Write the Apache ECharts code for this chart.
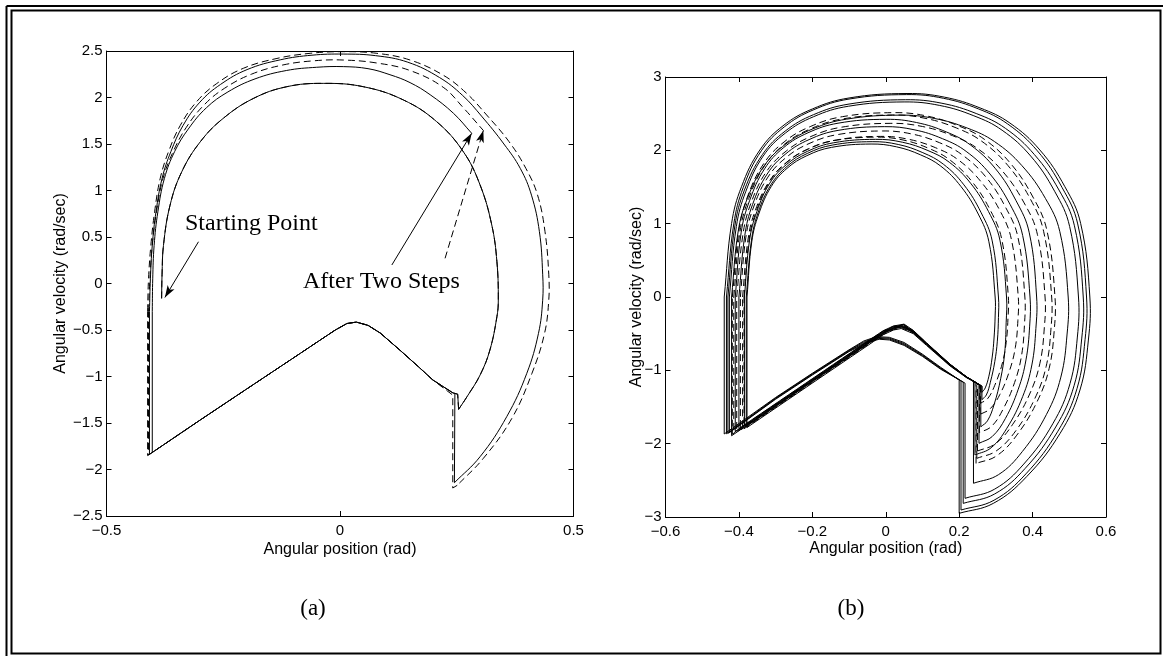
<!DOCTYPE html>
<html>
<head>
<meta charset="utf-8">
<script src="https://cdn.jsdelivr.net/npm/echarts@6/dist/echarts.min.js"></script>
<style>
  html, body { margin: 0; padding: 0; background: #ffffff; }
  #chart { width: 1163px; height: 656px; }
</style>
</head>
<body>
<div id="chart"></div>
<script>
// ---------- Panel (a): two simulated runs, solid and dashed ----------
// first swing, shared by both runs (starts at the marked starting point)
const aSwing1 = [[-0.382,-0.16],[-0.381,0.1],[-0.378,0.41],[-0.364,0.84],[-0.339,1.2],[-0.299,1.525],[-0.25,1.776],[-0.185,1.991],[-0.114,2.116],[-0.036,2.152],[0.05,2.116],[0.136,1.973],[0.207,1.74],[0.264,1.418],[0.3,1.059],[0.325,0.629],[0.336,0.235],[0.339,-0.177],[0.336,-0.357],[0.321,-0.715],[0.3,-0.984],[0.272,-1.217],[0.254,-1.353]];
// impact + stance phase after the first swing
const aStanceSolid1 = [[0.254,-1.353],[0.252,-1.19],[0.242,-1.177],[0.199,-1.038],[0.171,-0.909],[0.128,-0.715],[0.086,-0.532],[0.06,-0.45],[0.035,-0.415],[0.015,-0.43],[-0.01,-0.5],[-0.04,-0.6],[-0.085,-0.751],[-0.2,-1.135],[-0.3,-1.47],[-0.408,-1.837],[-0.408,-0.3]];
const aStanceDashed1 = [[0.254,-1.353],[0.252,-1.19],[0.242,-1.177],[0.199,-1.038],[0.171,-0.909],[0.128,-0.715],[0.086,-0.532],[0.06,-0.45],[0.035,-0.415],[0.015,-0.43],[-0.01,-0.5],[-0.04,-0.6],[-0.085,-0.751],[-0.2,-1.135],[-0.3,-1.47],[-0.412,-1.85],[-0.412,-0.3]];
// second swing
const aSwing2Solid = [[-0.408,-0.3],[-0.406,0.05],[-0.402,0.41],[-0.394,0.77],[-0.381,1.13],[-0.362,1.42],[-0.336,1.7],[-0.3,1.95],[-0.256,2.14],[-0.199,2.3],[-0.128,2.405],[-0.06,2.455],[0.007,2.467],[0.076,2.45],[0.145,2.38],[0.213,2.215],[0.262,2.025],[0.303,1.8],[0.351,1.5],[0.386,1.238],[0.41,0.95],[0.427,0.557],[0.434,0.1],[0.434,-0.18],[0.425,-0.536],[0.4,-0.966],[0.357,-1.432],[0.3,-1.862],[0.245,-2.142]];
const aSwing2Dashed = [[-0.412,-0.3],[-0.41,0.05],[-0.405,0.41],[-0.397,0.77],[-0.385,1.13],[-0.367,1.42],[-0.342,1.7],[-0.307,1.955],[-0.264,2.15],[-0.207,2.314],[-0.135,2.42],[-0.064,2.475],[0.007,2.493],[0.079,2.475],[0.15,2.403],[0.221,2.24],[0.27,2.05],[0.314,1.812],[0.362,1.525],[0.398,1.238],[0.423,0.952],[0.439,0.557],[0.447,0.1],[0.447,-0.18],[0.438,-0.536],[0.411,-0.966],[0.368,-1.45],[0.307,-1.88],[0.251,-2.17]];
// impact + stance phase after the second swing
const aStanceSolid2 = [[0.245,-2.142],[0.246,-1.18],[0.242,-1.177],[0.199,-1.038],[0.171,-0.909],[0.128,-0.715],[0.086,-0.532],[0.06,-0.45],[0.035,-0.415],[0.015,-0.43],[-0.01,-0.5],[-0.04,-0.6],[-0.085,-0.751],[-0.2,-1.135],[-0.3,-1.47],[-0.402,-1.817],[-0.402,-0.3]];
const aStanceDashed2 = [[0.251,-2.17],[0.2415,-2.199],[0.2415,-1.2],[0.199,-1.038],[0.171,-0.909],[0.128,-0.715],[0.086,-0.532],[0.06,-0.45],[0.035,-0.415],[0.015,-0.43],[-0.01,-0.5],[-0.04,-0.6],[-0.085,-0.751],[-0.2,-1.135],[-0.3,-1.47],[-0.41,-1.844],[-0.41,-0.3]];
// third swing, stopped after two steps
const aSwing3Solid = [[-0.402,-0.3],[-0.401,0.05],[-0.398,0.41],[-0.39,0.77],[-0.376,1.13],[-0.354,1.42],[-0.325,1.66],[-0.286,1.89],[-0.24,2.06],[-0.182,2.2],[-0.115,2.29],[-0.05,2.325],[0.007,2.332],[0.06,2.31],[0.107,2.245],[0.15,2.16],[0.193,2.03],[0.243,1.83],[0.282,1.615]];
const aSwing3Dashed = [[-0.41,-0.3],[-0.407,0.05],[-0.402,0.41],[-0.393,0.77],[-0.379,1.13],[-0.357,1.42],[-0.329,1.68],[-0.291,1.92],[-0.247,2.1],[-0.19,2.25],[-0.122,2.35],[-0.055,2.395],[0.007,2.403],[0.08,2.37],[0.15,2.29],[0.221,2.11],[0.264,1.89],[0.307,1.645]];
// annotation arrows [from, to]
const aArrowStart = [[-0.303,0.449],[-0.375,-0.15]];
const aArrowSolid = [[0.111,0.199],[0.282,1.615]];
const aArrowDashed = [[0.225,0.271],[0.307,1.645]];

// ---------- Panel (b): many steps, solid and dashed families ----------
const bSwingS1 = [[-0.44,0],[-0.42,1.002],[-0.393,1.504],[-0.343,2.004],[-0.28,2.334],[-0.2,2.564],[-0.1,2.714],[0.058,2.775],[0.16,2.725],[0.257,2.578],[0.338,2.373],[0.42,2.004],[0.488,1.504],[0.531,1.002],[0.556,0],[0.552,-0.587],[0.529,-1.269],[0.475,-1.859],[0.384,-2.449],[0.293,-2.814],[0.2,-2.95]];
const bSwingS2 = [[-0.434,0],[-0.414,0.996],[-0.388,1.496],[-0.339,1.993],[-0.276,2.321],[-0.198,2.55],[-0.1,2.699],[0.057,2.76],[0.157,2.71],[0.253,2.564],[0.332,2.36],[0.413,1.993],[0.48,1.496],[0.523,0.996],[0.547,0],[0.543,-0.578],[0.521,-1.249],[0.469,-1.83],[0.382,-2.411],[0.295,-2.771],[0.205,-2.905]];
const bSwingS3 = [[-0.43,0],[-0.411,0.971],[-0.385,1.458],[-0.336,1.942],[-0.274,2.262],[-0.197,2.486],[-0.1,2.631],[0.054,2.69],[0.153,2.642],[0.248,2.499],[0.326,2.3],[0.405,1.942],[0.472,1.458],[0.514,0.971],[0.538,0],[0.534,-0.56],[0.513,-1.21],[0.463,-1.773],[0.38,-2.336],[0.297,-2.685],[0.211,-2.814]];
const bSwingS4 = [[-0.426,0],[-0.407,0.96],[-0.381,1.442],[-0.334,1.921],[-0.273,2.237],[-0.197,2.458],[-0.102,2.601],[0.05,2.66],[0.147,2.612],[0.24,2.471],[0.317,2.274],[0.395,1.921],[0.46,1.442],[0.501,0.96],[0.525,0],[0.522,-0.546],[0.502,-1.18],[0.455,-1.729],[0.376,-2.278],[0.297,-2.619],[0.216,-2.745]];
const bSwingS5 = [[-0.42,0],[-0.402,0.895],[-0.377,1.344],[-0.331,1.791],[-0.272,2.086],[-0.199,2.292],[-0.107,2.425],[0.039,2.48],[0.132,2.435],[0.222,2.304],[0.296,2.12],[0.371,1.791],[0.435,1.344],[0.474,0.895],[0.497,0],[0.494,-0.505],[0.477,-1.092],[0.438,-1.6],[0.372,-2.108],[0.307,-2.423],[0.239,-2.54]];
const bSwingS6 = [[-0.41,0],[-0.394,0.875],[-0.371,1.313],[-0.33,1.749],[-0.278,2.038],[-0.212,2.239],[-0.13,2.37],[0.001,2.423],[0.084,2.379],[0.165,2.251],[0.231,2.072],[0.299,1.749],[0.355,1.313],[0.391,0.875],[0.411,0],[0.409,-0.429],[0.398,-0.927],[0.373,-1.358],[0.33,-1.789],[0.287,-2.056],[0.243,-2.155]];
const bSwingS7 = [[-0.4,0],[-0.384,0.839],[-0.363,1.259],[-0.323,1.677],[-0.272,1.954],[-0.209,2.146],[-0.13,2.272],[-0.004,2.323],[0.077,2.281],[0.155,2.158],[0.219,1.986],[0.284,1.677],[0.339,1.259],[0.373,0.839],[0.393,0],[0.392,-0.397],[0.382,-0.858],[0.361,-1.257],[0.326,-1.656],[0.29,-1.903],[0.254,-1.995]];
const bSwingS8 = [[-0.385,0],[-0.371,0.776],[-0.351,1.165],[-0.316,1.552],[-0.27,1.808],[-0.213,1.987],[-0.142,2.103],[-0.028,2.15],[0.045,2.111],[0.115,1.997],[0.173,1.838],[0.231,1.552],[0.28,1.165],[0.311,0.776],[0.329,0],[0.328,-0.352],[0.324,-0.761],[0.313,-1.115],[0.295,-1.469],[0.277,-1.689],[0.259,-1.77]];
const bSwingS9 = [[-0.38,0],[-0.366,0.765],[-0.348,1.148],[-0.313,1.529],[-0.269,1.781],[-0.214,1.957],[-0.146,2.071],[-0.037,2.118],[0.034,2.08],[0.101,1.968],[0.157,1.811],[0.213,1.529],[0.26,1.148],[0.29,0.765],[0.307,0],[0.307,-0.279],[0.304,-0.602],[0.297,-0.882],[0.285,-1.162],[0.274,-1.336],[0.262,-1.4]];
const bSwingS10 = [[-0.378,0],[-0.365,0.753],[-0.346,1.131],[-0.312,1.506],[-0.269,1.754],[-0.215,1.927],[-0.148,2.04],[-0.04,2.086],[0.029,2.048],[0.095,1.938],[0.15,1.784],[0.205,1.506],[0.252,1.131],[0.281,0.753],[0.298,0],[0.298,-0.259],[0.295,-0.559],[0.29,-0.819],[0.281,-1.079],[0.271,-1.24],[0.262,-1.3]];
const bSwingD1 = [[-0.418,0],[-0.4,0.908],[-0.377,1.363],[-0.333,1.815],[-0.277,2.114],[-0.206,2.323],[-0.118,2.459],[0.022,2.514],[0.111,2.469],[0.197,2.336],[0.269,2.149],[0.341,1.815],[0.401,1.363],[0.439,0.908],[0.461,0],[0.459,-0.452],[0.445,-0.976],[0.412,-1.43],[0.357,-1.884],[0.302,-2.166],[0.246,-2.27]];
const bSwingD2 = [[-0.414,0],[-0.397,0.896],[-0.373,1.345],[-0.33,1.792],[-0.275,2.087],[-0.205,2.293],[-0.119,2.427],[0.019,2.482],[0.107,2.437],[0.192,2.306],[0.262,2.122],[0.333,1.792],[0.393,1.345],[0.43,0.896],[0.452,0],[0.45,-0.438],[0.437,-0.946],[0.406,-1.386],[0.354,-1.826],[0.301,-2.099],[0.248,-2.2]];
const bSwingD3 = [[-0.406,0],[-0.389,0.855],[-0.367,1.283],[-0.325,1.71],[-0.271,1.991],[-0.204,2.188],[-0.12,2.316],[0.014,2.368],[0.1,2.325],[0.182,2.2],[0.25,2.025],[0.319,1.71],[0.377,1.283],[0.413,0.855],[0.434,0],[0.432,-0.418],[0.42,-0.903],[0.392,-1.323],[0.345,-1.743],[0.298,-2.003],[0.25,-2.1]];
const bSwingD4 = [[-0.396,0],[-0.381,0.817],[-0.36,1.227],[-0.321,1.635],[-0.271,1.904],[-0.209,2.092],[-0.132,2.214],[-0.009,2.264],[0.071,2.223],[0.147,2.103],[0.209,1.936],[0.273,1.635],[0.326,1.227],[0.36,0.817],[0.379,0],[0.378,-0.368],[0.37,-0.796],[0.351,-1.166],[0.319,-1.536],[0.288,-1.765],[0.255,-1.85]];
const bSwingD5 = [[-0.39,0],[-0.375,0.791],[-0.355,1.187],[-0.317,1.581],[-0.269,1.842],[-0.209,2.024],[-0.134,2.142],[-0.015,2.19],[0.062,2.151],[0.136,2.035],[0.197,1.872],[0.258,1.581],[0.31,1.187],[0.342,0.791],[0.361,0],[0.36,-0.318],[0.353,-0.688],[0.337,-1.008],[0.311,-1.328],[0.284,-1.526],[0.257,-1.6]];
const bSwingD6 = [[-0.386,0],[-0.372,0.787],[-0.352,1.182],[-0.316,1.574],[-0.27,1.833],[-0.213,2.014],[-0.141,2.132],[-0.026,2.18],[0.047,2.141],[0.118,2.025],[0.176,1.864],[0.235,1.574],[0.285,1.182],[0.316,0.787],[0.334,0],[0.333,-0.289],[0.328,-0.624],[0.317,-0.914],[0.297,-1.204],[0.278,-1.383],[0.258,-1.45]];

// impact jumps + stance phases (right vertical, roof, left vertical)
const bStanceS1 = [[0.2,-2.95],[0.2,-1.13],[0.15,-0.96],[0.1,-0.78],[0.05,-0.62],[0.01,-0.55],[-0.025,-0.54],[-0.06,-0.6],[-0.1,-0.72],[-0.2,-1.04],[-0.3,-1.37],[-0.44,-1.868],[-0.44,0]];
const bStanceS2 = [[0.205,-2.905],[0.205,-1.145],[0.15,-0.97],[0.1,-0.79],[0.05,-0.635],[0.01,-0.562],[-0.022,-0.552],[-0.058,-0.608],[-0.1,-0.728],[-0.2,-1.048],[-0.3,-1.378],[-0.434,-1.865],[-0.434,0]];
const bStanceS3 = [[0.211,-2.814],[0.211,-1.16],[0.15,-0.978],[0.1,-0.8],[0.05,-0.648],[0.01,-0.574],[-0.02,-0.564],[-0.055,-0.616],[-0.1,-0.736],[-0.2,-1.056],[-0.3,-1.386],[-0.43,-1.86],[-0.43,0]];
const bStanceS4 = [[0.216,-2.745],[0.216,-1.175],[0.15,-0.986],[0.1,-0.81],[0.05,-0.66],[0.01,-0.586],[-0.018,-0.576],[-0.052,-0.624],[-0.1,-0.744],[-0.2,-1.064],[-0.3,-1.394],[-0.426,-1.85],[-0.426,0]];
const bStanceS5 = [[0.239,-2.54],[0.239,-1.146],[0.22,-1.09],[0.175,-0.92],[0.111,-0.64],[0.075,-0.48],[0.045,-0.4],[0.021,-0.425],[-0.007,-0.49],[-0.034,-0.58],[-0.2,-1.144],[-0.42,-1.892],[-0.42,0]];
const bStanceS6 = [[0.243,-2.155],[0.243,-1.158],[0.22,-1.09],[0.175,-0.92],[0.111,-0.63],[0.075,-0.465],[0.048,-0.38],[0.021,-0.405],[-0.007,-0.47],[-0.034,-0.56],[-0.2,-1.124],[-0.41,-1.838],[-0.41,0]];
const bStanceS7 = [[0.254,-1.995],[0.254,-1.191],[0.22,-1.088],[0.175,-0.915],[0.111,-0.625],[0.075,-0.455],[0.05,-0.37],[0.021,-0.395],[-0.007,-0.46],[-0.034,-0.55],[-0.2,-1.114],[-0.4,-1.794],[-0.4,0]];
const bStanceS8 = [[0.259,-1.77],[0.259,-1.206],[0.22,-1.092],[0.175,-0.925],[0.111,-0.635],[0.075,-0.47],[0.046,-0.39],[0.021,-0.415],[-0.007,-0.48],[-0.034,-0.57],[-0.2,-1.134],[-0.385,-1.763],[-0.385,0]];
const bStanceS9 = [[0.262,-1.4],[0.262,-1.215],[0.22,-1.095],[0.175,-0.93],[0.111,-0.645],[0.075,-0.485],[0.044,-0.41],[0.021,-0.435],[-0.007,-0.5],[-0.034,-0.59],[-0.2,-1.154],[-0.38,-1.766],[-0.38,0]];
const bStanceS10 = [[0.262,-1.3],[0.262,-1.215],[0.22,-1.1],[0.175,-0.94],[0.111,-0.66],[0.075,-0.5],[0.042,-0.43],[0.021,-0.45],[-0.007,-0.515],[-0.034,-0.61],[-0.2,-1.174],[-0.378,-1.78],[-0.378,0]];
const bStanceD1 = [[0.246,-2.27],[0.246,-1.167],[0.22,-1.09],[0.175,-0.92],[0.111,-0.632],[0.075,-0.467],[0.047,-0.385],[0.021,-0.41],[-0.007,-0.475],[-0.034,-0.565],[-0.2,-1.129],[-0.418,-1.871],[-0.418,0]];
const bStanceD2 = [[0.248,-2.2],[0.248,-1.173],[0.22,-1.088],[0.175,-0.917],[0.111,-0.627],[0.075,-0.46],[0.049,-0.375],[0.021,-0.4],[-0.007,-0.465],[-0.034,-0.555],[-0.2,-1.119],[-0.414,-1.847],[-0.414,0]];
const bStanceD3 = [[0.25,-2.1],[0.25,-1.179],[0.22,-1.092],[0.175,-0.925],[0.111,-0.637],[0.075,-0.473],[0.046,-0.395],[0.021,-0.42],[-0.007,-0.485],[-0.034,-0.575],[-0.2,-1.139],[-0.406,-1.84],[-0.406,0]];
const bStanceD4 = [[0.255,-1.85],[0.255,-1.194],[0.22,-1.094],[0.175,-0.93],[0.111,-0.642],[0.075,-0.48],[0.044,-0.405],[0.021,-0.43],[-0.007,-0.495],[-0.034,-0.585],[-0.2,-1.149],[-0.396,-1.816],[-0.396,0]];
const bStanceD5 = [[0.257,-1.6],[0.257,-1.2],[0.22,-1.097],[0.175,-0.935],[0.111,-0.65],[0.075,-0.49],[0.043,-0.42],[0.021,-0.445],[-0.007,-0.51],[-0.034,-0.6],[-0.2,-1.164],[-0.39,-1.81],[-0.39,0]];
const bStanceD6 = [[0.258,-1.45],[0.258,-1.203],[0.22,-1.094],[0.175,-0.93],[0.111,-0.64],[0.075,-0.48],[0.045,-0.4],[0.021,-0.425],[-0.007,-0.49],[-0.034,-0.58],[-0.2,-1.144],[-0.386,-1.777],[-0.386,0]];

// axis ranges and tick steps
const aXRange = [-0.5, 0.5], aXStep = 0.5;
const aYRange = [-2.5, 2.5], aYStep = 0.5;
const bXRange = [-0.6, 0.6], bXStep = 0.2;
const bYRange = [-3, 3], bYStep = 1;

// texts
const xTitle = 'Angular position (rad)';
const yTitle = 'Angular velocity (rad/sec)';
const noteStart = 'Starting Point';
const noteSteps = 'After Two Steps';
const panelTags = ['(a)', '(b)'];

// ---------- chart construction ----------
const SANS = '"Liberation Sans", Arial, Helvetica, sans-serif';
const SERIF = '"Liberation Serif", "Times New Roman", serif';
const DASH = [7, 4];
const TENSION = 0.4;

function fmt(v) {
  const s = String(Math.round(v * 1000) / 1000);
  return s.replace('-', '\u2212');
}

function axisBase(grid, range, step) {
  return {
    gridIndex: grid, type: 'value', min: range[0], max: range[1], interval: step,
    splitLine: { show: false },
    axisLine: { show: true, onZero: false, lineStyle: { color: '#000', width: 1 } },
    axisTick: { show: true, inside: true, length: 5, lineStyle: { color: '#000', width: 1 } }
  };
}

function xAxisPair(grid, range, step, gap) {
  return [
    Object.assign(axisBase(grid, range, step), {
      position: 'bottom',
      axisLabel: { show: true, margin: 7, color: '#000', fontFamily: SANS, fontSize: 15, formatter: fmt },
      name: xTitle, nameLocation: 'middle', nameGap: gap, nameMoveOverlap: false,
      nameTextStyle: { color: '#000', fontFamily: SANS, fontSize: 16 }
    }),
    Object.assign(axisBase(grid, range, step), { position: 'top', axisLabel: { show: false } })
  ];
}

function yAxisPair(grid, range, step, gap) {
  return [
    Object.assign(axisBase(grid, range, step), {
      position: 'left',
      axisLabel: { show: true, margin: 4, color: '#000', fontFamily: SANS, fontSize: 15, formatter: fmt },
      name: yTitle, nameLocation: 'middle', nameGap: gap, nameRotate: 90, nameMoveOverlap: false,
      nameTextStyle: { color: '#000', fontFamily: SANS, fontSize: 16 }
    }),
    Object.assign(axisBase(grid, range, step), { position: 'right', axisLabel: { show: false } })
  ];
}

// SVG path through the given pixel points; curved pieces use cubic
// segments whose handles follow the neighbouring points.
function pathThrough(pts, curved) {
  const f = function (q) { return q[0].toFixed(2) + ' ' + q[1].toFixed(2); };
  let d = 'M' + f(pts[0]);
  const n = pts.length;
  if (!curved) {
    for (let i = 1; i < n; i++) d += ' L' + f(pts[i]);
    return d;
  }
  const dist = function (a, b) { return Math.hypot(a[0] - b[0], a[1] - b[1]); };
  for (let i = 0; i < n - 1; i++) {
    const p0 = pts[Math.max(i - 1, 0)], p1 = pts[i], p2 = pts[i + 1], p3 = pts[Math.min(i + 2, n - 1)];
    const seg = dist(p1, p2);
    const wa = seg / ((dist(p0, p1) + seg) || 1);
    const wb = seg / ((seg + dist(p2, p3)) || 1);
    const c1 = [p1[0] + (p2[0] - p0[0]) * TENSION * wa, p1[1] + (p2[1] - p0[1]) * TENSION * wa];
    const c2 = [p2[0] - (p3[0] - p1[0]) * TENSION * wb, p2[1] - (p3[1] - p1[1]) * TENSION * wb];
    d += ' C' + f(c1) + ' ' + f(c2) + ' ' + f(p2);
  }
  return d;
}

// One custom series per panel: each trajectory piece is drawn through its
// listed data points, placed with the panel's own axes.
function trajectorySeries(pieces, axisIdx) {
  return {
    type: 'custom', xAxisIndex: axisIdx, yAxisIndex: axisIdx,
    silent: true, animation: false, clip: true,
    data: pieces.map(function () { return [0, 0]; }),
    renderItem: function (params, api) {
      const p = pieces[params.dataIndex];
      const pts = p.pts.map(function (d) { return api.coord(d); });
      return {
        type: 'path',
        shape: { pathData: pathThrough(pts, p.smooth) },
        style: { stroke: '#000', lineWidth: 1, fill: 'none', lineDash: p.dashed ? DASH : null }
      };
    }
  };
}

function arrowSeries(list, axisIdx) {
  return {
    type: 'line', data: [], xAxisIndex: axisIdx, yAxisIndex: axisIdx,
    silent: true, animation: false, symbol: 'none',
    markLine: {
      silent: true, animation: false,
      symbol: ['none', 'arrow'], symbolSize: [6, 12],
      label: { show: false },
      emphasis: { disabled: true },
      data: list.map(function (a) {
        return [
          { coord: a.pair[0], lineStyle: { color: '#000', width: 1, type: a.dashed ? DASH : 'solid' } },
          { coord: a.pair[1] }
        ];
      })
    }
  };
}

const piecesA = [
  { pts: aSwing1, dashed: true, smooth: true },
  { pts: aSwing1, dashed: false, smooth: true },
  { pts: aStanceDashed1, dashed: true, smooth: false },
  { pts: aStanceSolid1, dashed: false, smooth: false },
  { pts: aSwing2Dashed, dashed: true, smooth: true },
  { pts: aSwing2Solid, dashed: false, smooth: true },
  { pts: aStanceDashed2, dashed: true, smooth: false },
  { pts: aStanceSolid2, dashed: false, smooth: false },
  { pts: aSwing3Dashed, dashed: true, smooth: true },
  { pts: aSwing3Solid, dashed: false, smooth: true }
];

const piecesB = [];
[[bSwingS1, bStanceS1], [bSwingS2, bStanceS2], [bSwingS3, bStanceS3], [bSwingS4, bStanceS4],
 [bSwingS5, bStanceS5], [bSwingS6, bStanceS6], [bSwingS7, bStanceS7], [bSwingS8, bStanceS8],
 [bSwingS9, bStanceS9], [bSwingS10, bStanceS10]].forEach(function (c) {
  piecesB.push({ pts: c[0], dashed: false, smooth: true });
  piecesB.push({ pts: c[1], dashed: false, smooth: false });
});
[[bSwingD1, bStanceD1], [bSwingD2, bStanceD2], [bSwingD3, bStanceD3],
 [bSwingD4, bStanceD4], [bSwingD5, bStanceD5], [bSwingD6, bStanceD6]].forEach(function (c) {
  piecesB.push({ pts: c[0], dashed: true, smooth: true });
  piecesB.push({ pts: c[1], dashed: true, smooth: false });
});

const series = [
  trajectorySeries(piecesA, 0),
  arrowSeries([
    { pair: aArrowStart, dashed: false },
    { pair: aArrowSolid, dashed: false },
    { pair: aArrowDashed, dashed: true }
  ], 0),
  trajectorySeries(piecesB, 2)
];

const xa = xAxisPair(0, aXRange, aXStep, 26);
const xb = xAxisPair(1, bXRange, bXStep, 24);
const ya = yAxisPair(0, aYRange, aYStep, 38);
const yb = yAxisPair(1, bYRange, bYStep, 21);

const frame = [
  // outer frame (top and left)
  { type: 'line', shape: { x1: 6.5, y1: 6, x2: 1163, y2: 6 }, style: { stroke: '#000', lineWidth: 2 } },
  { type: 'line', shape: { x1: 6.5, y1: 6, x2: 6.5, y2: 656 }, style: { stroke: '#000', lineWidth: 2 } },
  // inner frame
  { type: 'rect', shape: { x: 11.5, y: 10.5, width: 1149, height: 643 }, style: { stroke: '#000', fill: 'none', lineWidth: 2 } },
  // annotations and panel tags
  { type: 'text', x: 185, y: 224, style: { text: noteStart, fill: '#000', font: '24px ' + SERIF, align: 'left', verticalAlign: 'middle' } },
  { type: 'text', x: 303, y: 282, style: { text: noteSteps, fill: '#000', font: '24px ' + SERIF, align: 'left', verticalAlign: 'middle' } },
  { type: 'text', x: 313, y: 609, style: { text: panelTags[0], fill: '#000', font: '23px ' + SERIF, align: 'center', verticalAlign: 'middle' } },
  { type: 'text', x: 851, y: 609, style: { text: panelTags[1], fill: '#000', font: '23px ' + SERIF, align: 'center', verticalAlign: 'middle' } }
];

const chart = echarts.init(document.getElementById('chart'), null, { renderer: 'canvas' });
chart.setOption({
  backgroundColor: '#ffffff',
  animation: false,
  grid: [
    { left: 106.5, top: 51, width: 467, height: 465, containLabel: false },
    { left: 665.5, top: 77, width: 440.5, height: 440, containLabel: false }
  ],
  xAxis: [xa[0], xa[1], xb[0], xb[1]],
  yAxis: [ya[0], ya[1], yb[0], yb[1]],
  series: series,
  graphic: { elements: frame }
});
</script>
</body>
</html>
